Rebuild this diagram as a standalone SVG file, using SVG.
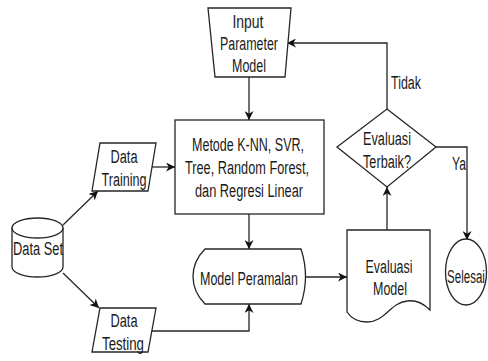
<svg xmlns="http://www.w3.org/2000/svg" width="488" height="361" viewBox="0 0 488 361">
<style>
.s{fill:#fff;stroke:#262626;stroke-width:1.3}
.c{fill:none;stroke:#262626;stroke-width:1.3}
text{font-family:"Liberation Sans",Arial,sans-serif;font-size:18px;fill:#1a1a1a;text-anchor:middle}
</style>
<defs>
<marker id="ah" viewBox="0 0 10 10" refX="10" refY="5" markerWidth="9" markerHeight="9" markerUnits="userSpaceOnUse" orient="auto">
<path d="M0,0 L10,5 L0,10 L3,5 Z" fill="#111"/>
</marker>
</defs>
<rect width="488" height="361" fill="#fff"/>
<g id="connectors">
<path class="c" d="M249,77 V120" marker-end="url(#ah)"/>
<path class="c" d="M387,109 V43 H287" marker-end="url(#ah)"/>
<path class="c" d="M249,214 V249" marker-end="url(#ah)"/>
<path class="c" d="M152,331 H249 V304" marker-end="url(#ah)"/>
<path class="c" d="M306,277 H347" marker-end="url(#ah)"/>
<path class="c" d="M387,230 V187" marker-end="url(#ah)"/>
<path class="c" d="M436,147 H467 V240" marker-end="url(#ah)"/>
<path class="c" d="M63,225 L98,191" marker-end="url(#ah)"/>
<path class="c" d="M63,273 L99,308" marker-end="url(#ah)"/>
<path class="c" d="M152,167 H175" marker-end="url(#ah)"/>
<text x="406" y="89" textLength="30" lengthAdjust="spacingAndGlyphs">Tidak</text>
<text x="459" y="170" textLength="14" lengthAdjust="spacingAndGlyphs">Ya</text>
</g>
<g id="input-parameter">
<path class="s" d="M208,8 H291 L285,77 H215 Z"/>
<text x="248" y="28" textLength="31" lengthAdjust="spacingAndGlyphs">Input</text>
<text x="249" y="50" textLength="58" lengthAdjust="spacingAndGlyphs">Parameter</text>
<text x="249" y="72" textLength="34" lengthAdjust="spacingAndGlyphs">Model</text>
</g>
<g id="metode">
<rect class="s" x="175" y="120" width="149" height="94"/>
<text x="248" y="151" textLength="112" lengthAdjust="spacingAndGlyphs">Metode K-NN, SVR,</text>
<text x="247" y="174" textLength="124" lengthAdjust="spacingAndGlyphs">Tree, Random Forest,</text>
<text x="249" y="197" textLength="108" lengthAdjust="spacingAndGlyphs">dan Regresi Linear</text>
</g>
<g id="data-training">
<path class="s" d="M100,143 H156 L148,191 H92 Z"/>
<text x="124" y="163" textLength="27" lengthAdjust="spacingAndGlyphs">Data</text>
<text x="124" y="186" textLength="45" lengthAdjust="spacingAndGlyphs">Training</text>
</g>
<g id="data-set">
<path class="s" d="M12,228 A25.5,10 0 0 1 63,228 V267 A25.5,10 0 0 1 12,267 Z"/>
<path class="c" d="M12,228 A25.5,10 0 0 0 63,228"/>
<text x="38" y="255" textLength="50" lengthAdjust="spacingAndGlyphs">Data Set</text>
</g>
<g id="data-testing">
<path class="s" d="M100,308 H156 L148,352 H92 Z"/>
<text x="124" y="327" textLength="27" lengthAdjust="spacingAndGlyphs">Data</text>
<text x="123" y="350" textLength="42" lengthAdjust="spacingAndGlyphs">Testing</text>
</g>
<g id="model-peramalan">
<path class="s" d="M205,249 H301 Q310,276.5 301,304 H205 C198,297 193,288 193,276.5 C193,265 198,256 205,249 Z"/>
<text x="249" y="285" textLength="98" lengthAdjust="spacingAndGlyphs">Model Peramalan</text>
</g>
<g id="evaluasi-model">
<path class="s" d="M347,230 H430 V310 C422,302 414,300 407,301 C390,303 385,322 367,322 C358,322 351,318 347,312 Z"/>
<text x="389" y="273" textLength="47" lengthAdjust="spacingAndGlyphs">Evaluasi</text>
<text x="390" y="295" textLength="34" lengthAdjust="spacingAndGlyphs">Model</text>
</g>
<g id="evaluasi-terbaik">
<path class="s" d="M387,109 L436,147 L387,187 L337,147 Z"/>
<text x="387" y="145" textLength="48" lengthAdjust="spacingAndGlyphs">Evaluasi</text>
<text x="387" y="168" textLength="48" lengthAdjust="spacingAndGlyphs">Terbaik?</text>
</g>
<g id="selesai">
<ellipse class="s" cx="466" cy="272" rx="20.5" ry="33"/>
<text transform="translate(466,283) scale(0.64,1)" x="0" y="0">Selesai</text>
</g>
</svg>
